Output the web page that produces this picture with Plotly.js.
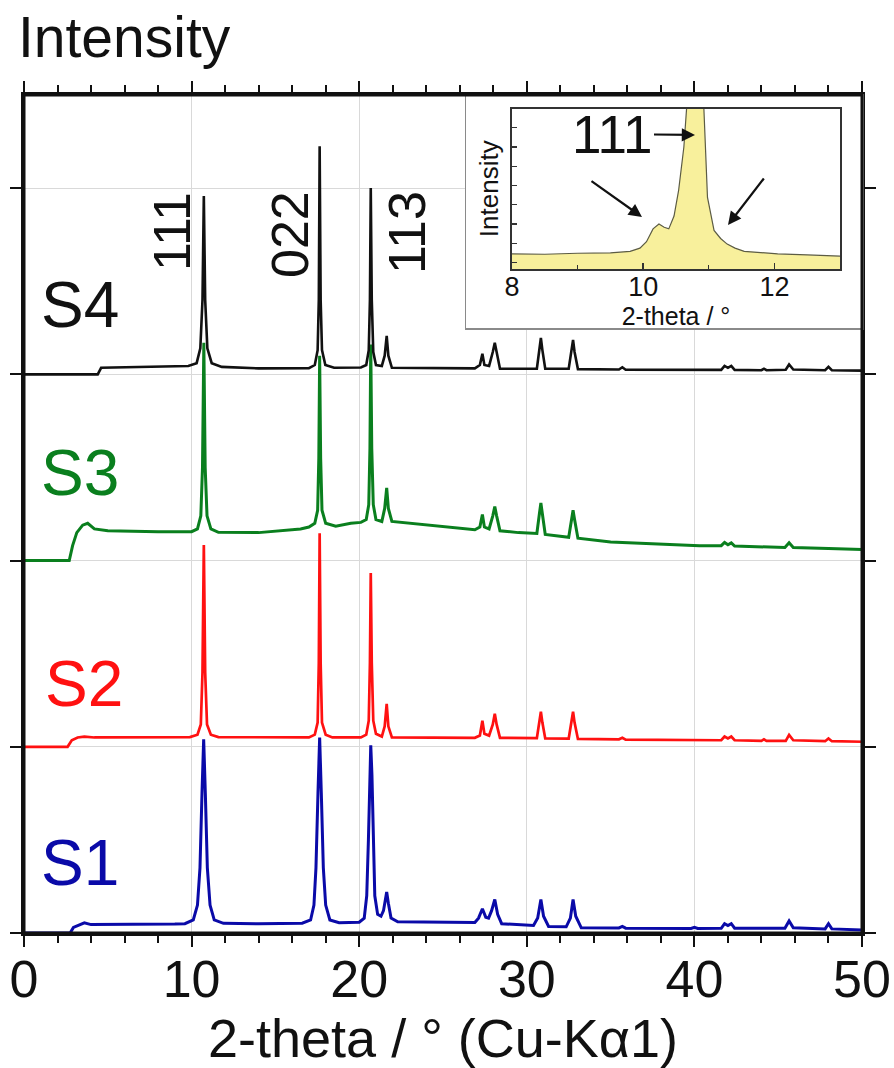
<!DOCTYPE html>
<html>
<head>
<meta charset="utf-8">
<script src="https://cdn.plot.ly/plotly-3.0.1.min.js"></script>
<style>html,body{margin:0;padding:0;background:#fff;}</style>
</head>
<body>
<div id="chart" style="width:894px;height:1068px;"></div>
<script>
// ---- data: [2-theta, intensity above own offset] ----
const SERIES_NAMES = ['S1', 'S2', 'S3', 'S4'];
const SERIES_OFFSETS = [0, 1, 2, 3];
const PEAK_LABELS = ['111', '022', '113'];

const S1_POINTS = [
  [0,0],[2.75,0],[2.95,0.03],[3.3,0.045],[3.6,0.055],[4.0,0.045],[6,0.045],[9,0.048],
  [9.6,0.05],[10.1,0.07],[10.35,0.15],[10.5,0.35],[10.62,0.75],[10.72,1.04],[10.82,0.75],[10.94,0.35],[11.1,0.15],[11.35,0.07],[11.9,0.052],
  [14,0.05],[16.6,0.053],[17.1,0.07],[17.3,0.15],[17.42,0.35],[17.54,0.75],[17.64,1.05],[17.74,0.75],[17.86,0.35],[18.0,0.15],[18.25,0.07],[18.8,0.055],
  [20.0,0.058],[20.3,0.08],[20.45,0.2],[20.55,0.5],[20.62,0.85],[20.69,1.008],[20.76,0.85],[20.83,0.5],[20.93,0.2],[21.1,0.1],[21.3,0.09],
  [21.45,0.12],[21.55,0.18],[21.64,0.22],[21.74,0.16],[21.9,0.08],[22.3,0.06],
  [25,0.058],[26.9,0.056],[27.12,0.08],[27.35,0.13],[27.55,0.085],[27.72,0.08],[27.9,0.12],[28.09,0.18],[28.26,0.1],[28.5,0.05],
  [30.4,0.04],[30.65,0.08],[30.84,0.18],[31.0,0.09],[31.3,0.035],
  [32.35,0.033],[32.6,0.08],[32.76,0.18],[32.92,0.09],[33.25,0.028],
  [35.5,0.027],[35.7,0.035],[35.9,0.026],[39.8,0.024],[40.0,0.03],[40.2,0.024],
  [41.6,0.025],[41.8,0.05],[42.0,0.04],[42.2,0.05],[42.4,0.026],[45.4,0.025],[45.65,0.065],[45.9,0.028],
  [47.8,0.022],[48.0,0.05],[48.2,0.022],[50,0.016]
];

const S2_POINTS = [
  [0,0],[2.6,0],[2.85,0.035],[3.2,0.05],[3.6,0.055],[4.2,0.05],[9.9,0.052],
  [10.35,0.065],[10.55,0.12],[10.65,0.4],[10.73,1.083],[10.81,0.4],[10.92,0.12],[11.15,0.065],[11.6,0.052],
  [17.0,0.05],[17.35,0.065],[17.52,0.13],[17.59,0.45],[17.64,1.147],[17.70,0.45],[17.78,0.13],[18.0,0.065],[18.4,0.05],
  [20.1,0.05],[20.42,0.065],[20.57,0.14],[20.64,0.45],[20.69,0.933],[20.75,0.45],[20.84,0.14],[21.0,0.07],[21.35,0.055],
  [21.52,0.11],[21.64,0.23],[21.74,0.11],[21.95,0.05],
  [26.9,0.048],[27.2,0.06],[27.35,0.14],[27.47,0.07],[27.75,0.06],[27.97,0.12],[28.09,0.177],[28.2,0.12],[28.4,0.048],
  [30.6,0.046],[30.75,0.13],[30.84,0.188],[30.93,0.13],[31.1,0.045],
  [32.5,0.044],[32.67,0.13],[32.76,0.188],[32.85,0.13],[33.05,0.042],
  [35.5,0.04],[35.7,0.048],[35.9,0.038],[40,0.035],[41.6,0.035],[41.8,0.055],[42.0,0.045],[42.2,0.055],[42.4,0.035],
  [44.0,0.032],[44.15,0.04],[44.3,0.032],[45.45,0.032],[45.65,0.064],[45.9,0.035],[47.8,0.03],[48.0,0.045],[48.2,0.03],[50,0.027]
];

const S3_POINTS = [
  [0,0],[2.7,0],[2.9,0.08],[3.15,0.15],[3.5,0.19],[3.8,0.2],[4.2,0.17],[5,0.16],[8,0.155],[10.0,0.155],
  [10.35,0.17],[10.55,0.24],[10.65,0.5],[10.73,1.17],[10.81,0.5],[10.92,0.24],[11.15,0.17],[11.6,0.152],
  [14,0.15],[16.5,0.17],[17.0,0.18],[17.35,0.2],[17.52,0.27],[17.59,0.55],[17.64,1.10],[17.70,0.55],[17.78,0.27],[18.0,0.2],[18.6,0.185],[19.5,0.2],
  [20.1,0.205],[20.42,0.22],[20.57,0.3],[20.64,0.6],[20.69,1.16],[20.75,0.6],[20.84,0.3],[21.0,0.22],[21.35,0.21],
  [21.52,0.28],[21.64,0.39],[21.74,0.28],[21.95,0.21],
  [23,0.2],[24,0.19],[25.4,0.177],[26.9,0.165],[27.2,0.18],[27.35,0.247],[27.47,0.18],[27.75,0.17],[27.97,0.24],[28.09,0.29],[28.2,0.24],[28.4,0.16],
  [29.5,0.15],[30.6,0.145],[30.75,0.25],[30.84,0.31],[30.93,0.25],[31.1,0.14],
  [32.5,0.125],[32.67,0.22],[32.76,0.27],[32.85,0.22],[33.05,0.12],
  [35,0.1],[37.3,0.09],[40.3,0.08],[41.6,0.08],[41.8,0.097],[42.0,0.085],[42.2,0.095],[42.4,0.078],
  [45.4,0.07],[45.65,0.095],[45.9,0.07],[48,0.065],[50,0.06]
];

const S4_POINTS = [
  [0,0],[4.4,0],[4.6,0.035],[6,0.038],[9.8,0.045],
  [10.3,0.06],[10.52,0.14],[10.65,0.4],[10.73,0.957],[10.81,0.4],[10.94,0.14],[11.2,0.06],[11.8,0.04],
  [14,0.032],[17.0,0.033],[17.35,0.05],[17.52,0.13],[17.59,0.4],[17.64,1.225],[17.70,0.4],[17.78,0.13],[17.98,0.05],[18.5,0.035],
  [20.1,0.037],[20.42,0.05],[20.57,0.13],[20.64,0.4],[20.69,1.0],[20.75,0.4],[20.84,0.12],[21.0,0.05],[21.35,0.045],
  [21.52,0.1],[21.64,0.206],[21.74,0.1],[21.95,0.035],
  [26.9,0.032],[27.2,0.05],[27.35,0.11],[27.47,0.05],[27.75,0.045],[27.97,0.12],[28.09,0.17],[28.2,0.12],[28.4,0.03],
  [30.6,0.03],[30.75,0.13],[30.84,0.195],[30.93,0.13],[31.1,0.03],
  [32.5,0.03],[32.67,0.12],[32.76,0.185],[32.85,0.12],[33.05,0.028],
  [35.5,0.026],[35.7,0.038],[35.9,0.025],[40,0.022],[41.6,0.024],[41.8,0.045],[42.0,0.035],[42.2,0.045],[42.4,0.024],
  [44.0,0.022],[44.15,0.03],[44.3,0.022],[45.45,0.025],[45.65,0.053],[45.9,0.026],[47.8,0.022],[48.0,0.04],[48.2,0.022],[50,0.02]
];

// inset: 2-theta 8..13, intensity (peak top runs off the frame)
const INSET_POINTS = [
  [8.0,0.94],[8.5,0.92],[9.0,0.98],[9.5,1.0],[9.8,1.1],[9.95,1.3],[10.05,1.7],[10.15,2.5],[10.24,2.8],[10.32,2.6],
  [10.39,2.5],[10.47,3.3],[10.54,4.9],[10.62,7.6],[10.67,10.5],[10.8,30],[10.92,10.5],[10.98,4.46],[11.08,2.4],
  [11.18,1.9],[11.28,1.55],[11.4,1.3],[11.54,1.1],[11.8,1.0],[12.05,0.94],[12.5,0.88],[13.0,0.8]
];

// ---- styling ----
const FONT = 'Liberation Sans, Arial, Helvetica, sans-serif';
const COLORS = ['#0a0aa8', '#ff1111', '#0a7f1e', '#111111'];
const WIDTHS = [3, 2.7, 3, 2.6];
const ALL_POINTS = [S1_POINTS, S2_POINTS, S3_POINTS, S4_POINTS];

// figure geometry (pixels) -> paper coords
const W = 894, H = 1068, ML = 24, MR = 32, MT = 95, MB = 135;
const PW = W - ML - MR, PH = H - MT - MB;
const px = v => (v - ML) / PW;
const py = v => (H - MB - v) / PH;

const traces = ALL_POINTS.map((pts, i) => ({
  type: 'scatter', mode: 'lines', name: SERIES_NAMES[i],
  x: pts.map(p => p[0]),
  y: pts.map(p => p[1] + SERIES_OFFSETS[i]),
  line: {color: COLORS[i], width: WIDTHS[i]},
  hoverinfo: 'skip', showlegend: false, xaxis: 'x', yaxis: 'y'
}));

// blank white box that holds the inset
traces.push({type: 'scatter', mode: 'markers', x: [null], y: [null], xaxis: 'x2', yaxis: 'y2',
  hoverinfo: 'skip', showlegend: false});

traces.push({
  type: 'scatter', mode: 'lines', x: INSET_POINTS.map(p => p[0]), y: INSET_POINTS.map(p => p[1]),
  fill: 'tozeroy', fillcolor: '#f8f09c', line: {color: '#5c5c44', width: 1.2},
  xaxis: 'x3', yaxis: 'y3', hoverinfo: 'skip', showlegend: false
});

const annotations = [];
annotations.push({xref: 'paper', yref: 'paper', x: px(16), y: py(37), xanchor: 'left', yanchor: 'middle',
  text: 'Intensity', showarrow: false, font: {family: FONT, size: 57, color: '#111'}});

const labelPos = [[80, 863], [84, 684], [80, 473], [80, 305]];
SERIES_NAMES.forEach((n, i) => {
  annotations.push({xref: 'paper', yref: 'paper', x: px(labelPos[i][0]), y: py(labelPos[i][1]),
    xanchor: 'center', yanchor: 'middle',
    text: n, showarrow: false, font: {family: FONT, size: 64, color: COLORS[i]}});
});

const peakLabelPos = [[172, 232], [290, 235], [407, 233]];
PEAK_LABELS.forEach((t, i) => {
  annotations.push({xref: 'paper', yref: 'paper', x: px(peakLabelPos[i][0]), y: py(peakLabelPos[i][1]),
    xanchor: 'center', yanchor: 'middle',
    text: t, textangle: -90, showarrow: false, font: {family: FONT, size: 52, color: '#111'}});
});

// inset annotations
annotations.push({xref: 'paper', yref: 'paper', x: px(695), y: py(135), ax: -83, ay: -1,
  text: '111', showarrow: true, arrowhead: 2, arrowsize: 1.2, arrowwidth: 2.2, arrowcolor: '#111', standoff: 0, startstandoff: 0,
  font: {family: FONT, size: 53, color: '#111'}});
annotations.push({xref: 'paper', yref: 'paper', x: px(642), y: py(217), ax: -52, ay: -37,
  text: '', showarrow: true, arrowhead: 2, arrowsize: 1.2, arrowwidth: 2.2, arrowcolor: '#111'});
annotations.push({xref: 'paper', yref: 'paper', x: px(728), y: py(225), ax: 37, ay: -48,
  text: '', showarrow: true, arrowhead: 2, arrowsize: 1.2, arrowwidth: 2.2, arrowcolor: '#111'});

const layout = {
  width: W, height: H,
  margin: {l: ML, r: MR, t: MT, b: MB},
  paper_bgcolor: '#fff', plot_bgcolor: '#fff',
  font: {family: FONT, color: '#111'},
  showlegend: false,
  xaxis: {
    domain: [0, 1], range: [0, 50], dtick: 10, tick0: 0,
    ticks: 'outside', ticklen: 11, tickwidth: 2, tickcolor: '#111',
    minor: {dtick: 2, ticks: 'outside', ticklen: 7, tickwidth: 2, tickcolor: '#111', showgrid: false},
    showline: true, linewidth: 3, linecolor: '#111', mirror: 'ticks',
    showgrid: true, gridcolor: '#d9d9d9', gridwidth: 1, zeroline: false,
    tickfont: {family: FONT, size: 52, color: '#111'},
    ticklabelstandoff: -12,
    title: {text: '2-theta / ° (Cu-Kα1)', font: {family: FONT, size: 54, color: '#111'}, standoff: 30},
    anchor: 'y'
  },
  yaxis: {
    domain: [0, 1], range: [0, 4.5], dtick: 1, tick0: 0,
    ticks: 'outside', ticklen: 11, tickwidth: 2, tickcolor: '#111',
    showticklabels: false,
    showline: true, linewidth: 3, linecolor: '#111', mirror: 'ticks',
    showgrid: true, gridcolor: '#d9d9d9', gridwidth: 1, zeroline: false,
    anchor: 'x'
  },
  xaxis2: {domain: [px(466), 1], range: [0, 1], anchor: 'y2', showgrid: false, zeroline: false,
    showticklabels: false, ticks: '', showline: true, mirror: true, linecolor: '#8a8a8a', linewidth: 1.5, fixedrange: true},
  yaxis2: {domain: [py(328), 1], range: [0, 1], anchor: 'x2', showgrid: false, zeroline: false,
    showticklabels: false, ticks: '', showline: true, mirror: true, linecolor: '#8a8a8a', linewidth: 1.5, fixedrange: true},
  xaxis3: {domain: [px(512), px(840)], range: [8, 13], anchor: 'y3', dtick: 2, tick0: 8,
    ticks: 'inside', ticklen: 6, tickwidth: 1.5, tickcolor: '#333',
    minor: {dtick: 1, ticks: 'inside', ticklen: 4, tickwidth: 1.2, tickcolor: '#333', showgrid: false},
    showline: true, mirror: true, linecolor: '#333', linewidth: 1.6,
    showgrid: false, zeroline: false,
    tickfont: {family: FONT, size: 27, color: '#111'},
    ticklabelstandoff: -7,
    title: {text: '2-theta / °', font: {family: FONT, size: 25, color: '#111'}, standoff: 0}},
  yaxis3: {domain: [py(269), py(108.5)], range: [0, 10], anchor: 'x3', tick0: 0.4, dtick: 1.2,
    ticks: 'inside', ticklen: 5, tickwidth: 1.2, tickcolor: '#333', showticklabels: false,
    showline: true, mirror: true, linecolor: '#333', linewidth: 1.6,
    showgrid: false, zeroline: false,
    title: {text: 'Intensity', font: {family: FONT, size: 26, color: '#111'}, standoff: 4}},
  shapes: [{type: 'rect', xref: 'paper', yref: 'paper', x0: 0, x1: 1, y0: 0, y1: 1,
    line: {color: '#111', width: 3}, fillcolor: 'rgba(0,0,0,0)', layer: 'above'}],
  annotations: annotations
};

Plotly.newPlot('chart', traces, layout, {staticPlot: true, displayModeBar: false});
</script>
</body>
</html>
